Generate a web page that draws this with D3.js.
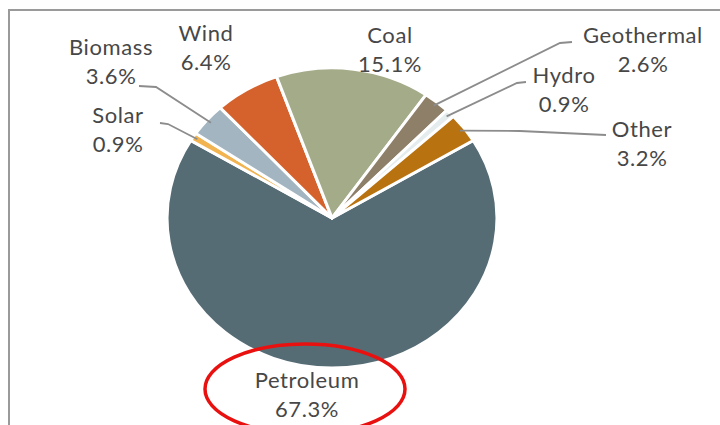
<!DOCTYPE html>
<html>
<head>
<meta charset="utf-8">
<script src="https://cdn.jsdelivr.net/npm/d3@7"></script>
<style>
  html, body { margin: 0; padding: 0; background: #fff; }
  svg { display: block; }
  text { font-family: Lato, "Open Sans", sans-serif; fill: #474747; }
</style>
</head>
<body>
<svg id="chart" width="720" height="425"></svg>
<script>
// Energy source shares (%), clockwise from the petroleum slice
const categories = ["Petroleum", "Solar", "Biomass", "Wind", "Coal", "Geothermal", "Hydro", "Other"];
const shares     = [67.3, 0.9, 3.6, 6.4, 15.1, 2.6, 0.9, 3.2];
const labels     = ["67.3%", "0.9%", "3.6%", "6.4%", "15.1%", "2.6%", "0.9%", "3.2%"];
const colours    = ["#566c75", "#f2b451", "#a2b5c0", "#d5622c", "#a4ab89", "#8e7f69", "#e4ecee", "#b8720f"];

// Label placement: text anchor centre (x), first baseline (y), and optional leader elbow
const labelLayout = {
  Petroleum:  { x: 307, y: 388 },
  Solar:      { x: 118, y: 123, elbow: [168, 124] },
  Biomass:    { x: 111, y: 55,  elbow: [156, 87], from: [139, 86] },
  Wind:       { x: 206, y: 41 },
  Coal:       { x: 390, y: 43 },
  Geothermal: { x: 643, y: 43,  elbow: [560, 43], from: [572, 42] },
  Hydro:      { x: 564, y: 83,  elbow: [517, 83], from: [526, 82] },
  Other:      { x: 642, y: 137, elbow: [520, 131], from: [606, 135] }
};

const svg = d3.select("#chart");
const cx = 332, cy = 218, radius = 150, xStretch = 1.1;

// Frame (top and left rules)
svg.append("path")
  .attr("d", "M9,425 L9,10 L720,10")
  .attr("fill", "none")
  .attr("stroke", "#9a9a9a")
  .attr("stroke-width", 2);

const data = categories.map((c, i) => ({ name: c, value: shares[i], label: labels[i], colour: colours[i] }));

// Petroleum is centred on the bottom of the pie
const petroleumSweep = shares[0] / d3.sum(shares) * 2 * Math.PI;
const pie = d3.pie().sort(null).value(d => d.value)
  .startAngle(Math.PI - petroleumSweep / 2)
  .endAngle(Math.PI - petroleumSweep / 2 + 2 * Math.PI);
const arcs = pie(data);
const arc = d3.arc().innerRadius(0).outerRadius(radius);

const pieG = svg.append("g")
  .attr("transform", `translate(${cx},${cy}) scale(${xStretch},1)`);

pieG.selectAll("path.slice")
  .data(arcs)
  .join("path")
  .attr("class", "slice")
  .attr("d", arc)
  .attr("fill", d => d.data.colour)
  .attr("stroke", "#ffffff")
  .attr("stroke-width", 2.8)
  .attr("stroke-linejoin", "round");

// Point on the rim at a slice's mid angle, in page coordinates
function rimPoint(d, r) {
  const a = (d.startAngle + d.endAngle) / 2;
  return [cx + Math.sin(a) * r * xStretch, cy - Math.cos(a) * r];
}

// Leader lines
const leaderG = svg.append("g");
arcs.forEach(d => {
  const lay = labelLayout[d.data.name];
  if (!lay.elbow) return;
  const end = rimPoint(d, radius * 0.97);
  const pts = [];
  if (lay.from) pts.push(lay.from);
  else pts.push([lay.elbow[0] - 8, lay.elbow[1] - 1]);
  pts.push(lay.elbow);
  pts.push(end);
  leaderG.append("path")
    .attr("d", d3.line()(pts))
    .attr("fill", "none")
    .attr("stroke", "#8c8c8c")
    .attr("stroke-width", 1.8);
});

// Labels: name and share on two lines
const labelG = svg.append("g");
arcs.forEach(d => {
  const lay = labelLayout[d.data.name];
  const t = labelG.append("text")
    .attr("text-anchor", "middle")
    .attr("font-size", 22)
    .attr("letter-spacing", 0.6);
  t.append("tspan").attr("x", lay.x).attr("y", lay.y).text(d.data.name);
  t.append("tspan").attr("x", lay.x).attr("y", lay.y + 29).text(d.data.label);
});

// Highlight ring around the petroleum label
svg.append("ellipse")
  .attr("cx", 305).attr("cy", 389)
  .attr("rx", 100).attr("ry", 45)
  .attr("fill", "none")
  .attr("stroke", "#e8110f")
  .attr("stroke-width", 3.5);
</script>
</body>
</html>
